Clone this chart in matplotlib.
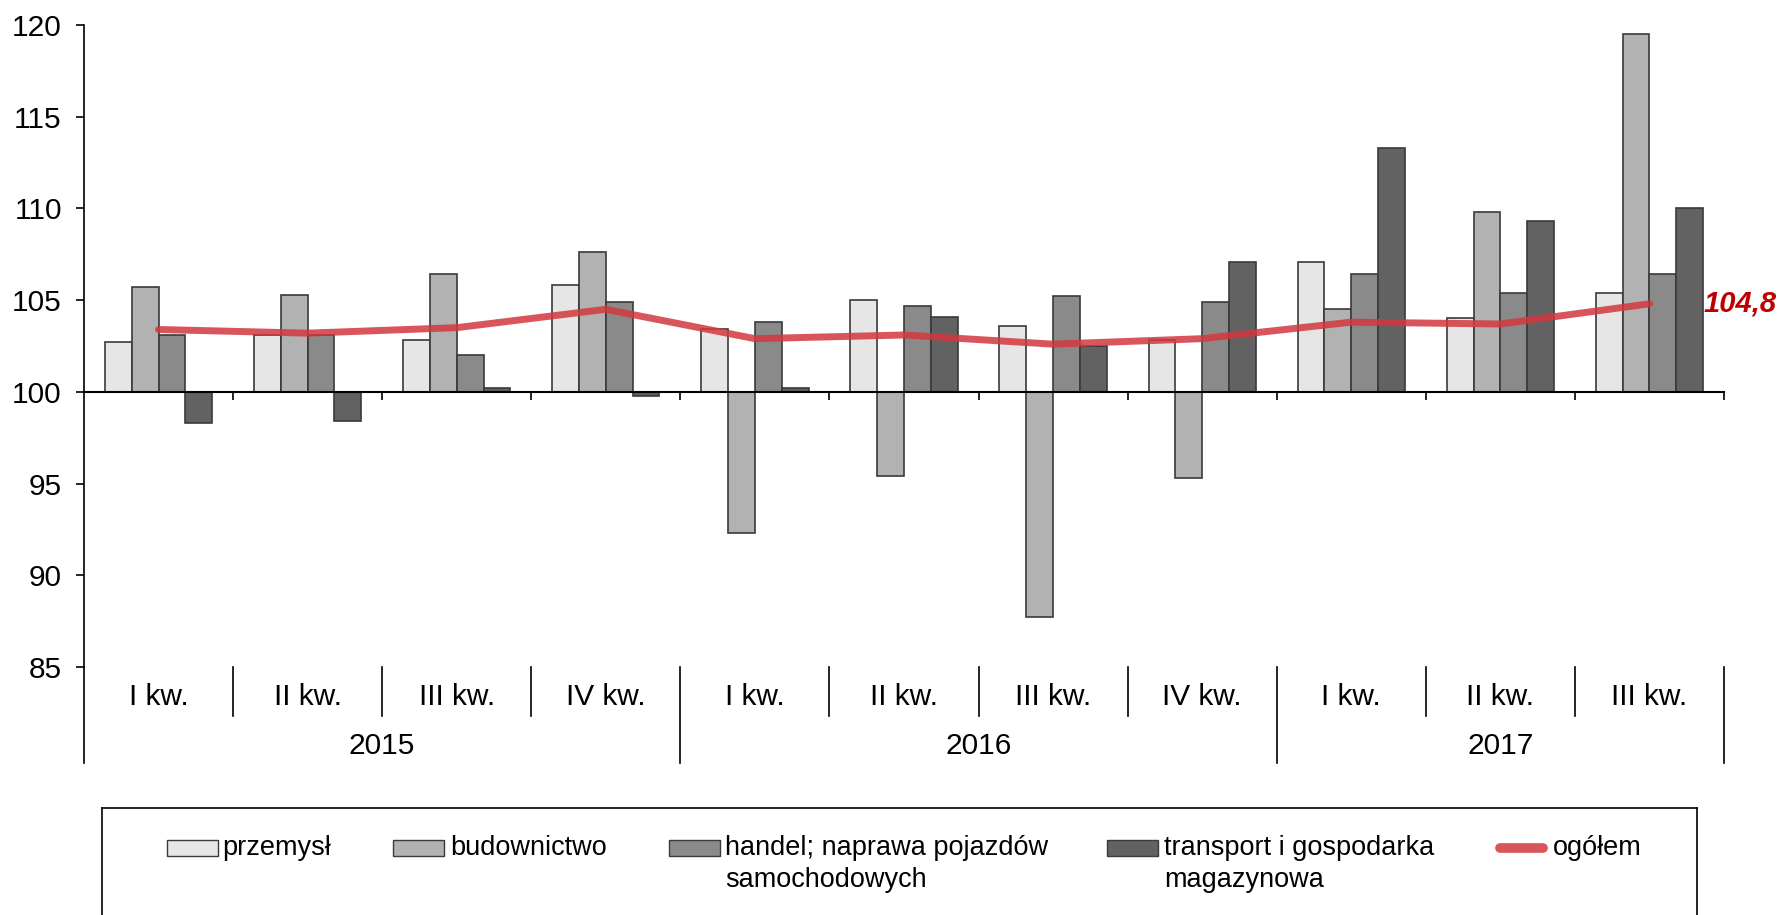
import numpy as np
import matplotlib
matplotlib.use("Agg")
import matplotlib.pyplot as plt
from matplotlib.patches import Rectangle
from matplotlib.lines import Line2D
import matplotlib.transforms as mtransforms

plt.rcParams['font.family'] = ['Liberation Sans', 'DejaVu Sans']

quarters = ["I kw.", "II kw.", "III kw.", "IV kw.", "I kw.", "II kw.", "III kw.", "IV kw.", "I kw.", "II kw.", "III kw."]
years = ["2015", "2016", "2017"]
year_counts = [4, 4, 3]

przemysl = [102.7, 103.1, 102.8, 105.8, 103.4, 105.0, 103.6, 102.8, 107.1, 104.0, 105.4]
budownictwo = [105.7, 105.3, 106.4, 107.6, 92.3, 95.4, 87.7, 95.3, 104.5, 109.8, 119.5]
handel = [103.1, 103.1, 102.0, 104.9, 103.8, 104.7, 105.2, 104.9, 106.4, 105.4, 106.4]
transport = [98.3, 98.4, 100.2, 99.8, 100.2, 104.1, 102.5, 107.1, 113.3, 109.3, 110.0]
ogolem = [103.4, 103.2, 103.5, 104.5, 102.9, 103.1, 102.6, 102.9, 103.8, 103.7, 104.8]

series_names = ["przemysł", "budownictwo", "handel; naprawa pojazdów\nsamochodowych",
                "transport i gospodarka\nmagazynowa"]
series_colors = ["#E6E6E6", "#B2B2B2", "#8A8A8A", "#626262"]
line_name = "ogółem"
line_color = "#D2383E"
last_label = "104,8"

AX_FS = 21.5
LEG_FS = 19.5

W, H = 1777, 915
fig = plt.figure(figsize=(W / 100, H / 100), dpi=100)
ax = fig.add_axes([84 / W, 1 - 667 / H, (1724 - 84) / W, (667 - 25) / H])

x = np.arange(len(quarters))
bw = 0.18
all_series = [przemysl, budownictwo, handel, transport]
for k, (vals, col) in enumerate(zip(all_series, series_colors)):
    v = np.array(vals) - 100
    ax.bar(x + (k - 1.5) * bw, v, bottom=100, width=bw, color=col,
           edgecolor="#3A3A3A", linewidth=1.2, zorder=2)

ax.plot(x, ogolem, color=line_color, lw=5, alpha=0.85, solid_capstyle='round', zorder=4)
ax.text(x[-1] + 0.36, ogolem[-1], last_label, color="#C00000", fontsize=21,
        fontweight='bold', fontstyle='italic', ha='left', va='center', clip_on=False)

ax.set_xlim(-0.5, len(quarters) - 0.5)
ax.set_ylim(85, 120)
ax.set_yticks(np.arange(85, 121, 5))
ax.tick_params(axis='y', labelsize=AX_FS, length=6, width=1.2, pad=10, direction='out')

ax.spines['top'].set_visible(False)
ax.spines['right'].set_visible(False)
ax.spines['left'].set_linewidth(1.2)
ax.spines['bottom'].set_position(('data', 100))
ax.spines['bottom'].set_linewidth(1.5)
ax.spines['bottom'].set_zorder(5)
ax.set_xticks(np.arange(0.5, len(quarters), 1.0))
ax.set_xticklabels([])
ax.tick_params(axis='x', length=6, width=1.2, direction='out')

# category label area
trans = mtransforms.blended_transform_factory(ax.transData, ax.transAxes)
h_ax = 667 - 25
y_sep_q = -(716 - 667) / h_ax
y_sep_y = -(763 - 667) / h_ax
y_q = -(697 - 667) / h_ax
y_y = -(746 - 667) / h_ax

ax.plot([0, 0], [0, y_sep_y], transform=ax.transAxes, color='black', lw=1.2, clip_on=False)
for i, q in enumerate(quarters):
    ax.text(i, y_q, q, transform=trans, ha='center', va='center', fontsize=AX_FS)
bounds = np.cumsum([0] + year_counts) - 0.5
for b in np.arange(0.5, len(quarters) - 0.5, 1.0):
    if b in bounds:
        continue
    ax.plot([b, b], [0, y_sep_q], transform=trans, color='black', lw=1.2, clip_on=False)
for b in bounds[1:]:
    ax.plot([b, b], [0, y_sep_y], transform=trans, color='black', lw=1.2, clip_on=False)
for j, yr in enumerate(years):
    c = (bounds[j] + bounds[j + 1]) / 2
    ax.text(c, y_y, yr, transform=trans, ha='center', va='center', fontsize=AX_FS)

# legend box (manual)
def fx(px):
    return px / W

def fy(py):
    return 1 - py / H

frame = [((102, 808), (1697, 808)), ((102, 808), (102, 915)), ((1697, 808), (1697, 915))]
for (a, b) in frame:
    fig.add_artist(Line2D([fx(a[0]), fx(b[0])], [fy(a[1]), fy(b[1])], color='black', lw=1.2))

patch_x = [167, 393, 669, 1107]
text_x = [222, 450, 725, 1164]
row1, row2 = 848, 880
for px, tx, name, col in zip(patch_x, text_x, series_names, series_colors):
    fig.add_artist(Rectangle((fx(px), fy(856)), 51 / W, 16 / H, facecolor=col,
                             edgecolor='#3A3A3A', lw=1.0, transform=fig.transFigure))
    lines = name.split("\n")
    fig.text(fx(tx), fy(row1), lines[0], ha='left', va='center', fontsize=LEG_FS)
    if len(lines) > 1:
        fig.text(fx(tx), fy(row2), lines[1], ha='left', va='center', fontsize=LEG_FS)
fig.add_artist(Line2D([fx(1500), fx(1543)], [fy(848), fy(848)], color=line_color, lw=7,
                      alpha=0.85, solid_capstyle='round'))
fig.text(fx(1553), fy(row1), line_name, ha='left', va='center', fontsize=LEG_FS)

fig.savefig("out.png", dpi=100)
